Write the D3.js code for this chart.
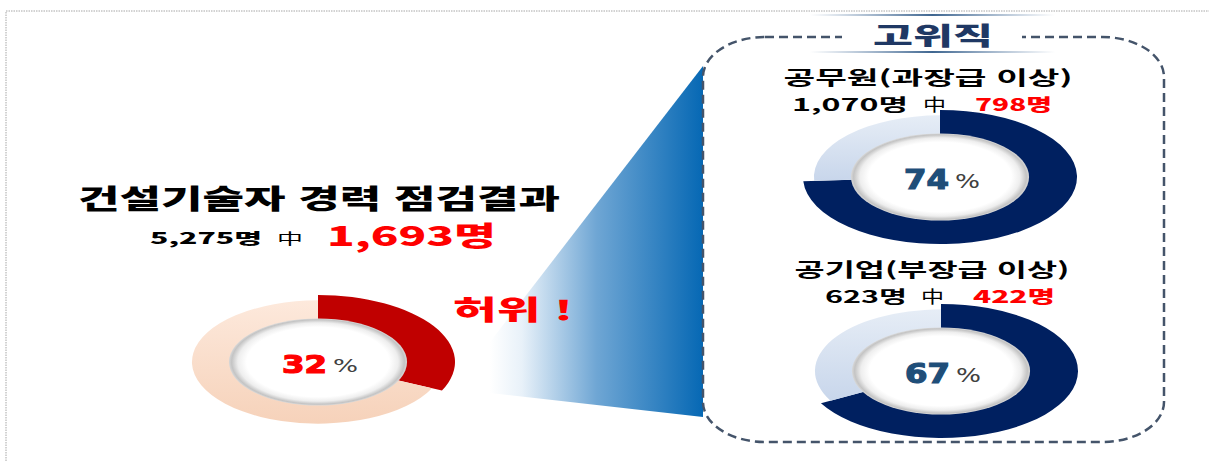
<!DOCTYPE html>
<html lang="ko">
<head>
    <meta charset="UTF-8">
    <title>건설기술자 경력 점검결과</title>
    <style>
        body { margin: 0; background: #fff; }
        text { font-family: "Noto Sans CJK KR", "Noto Sans", sans-serif; }
        text.num { font-family: "DejaVu Sans", "Lato", sans-serif; }
    </style>
</head>
<body>
    <div id="wrapper"></div>
    <script src="https://cdn.jsdelivr.net/npm/d3@7"></script>
    <script>
        // 데이터
        const groups = ['건설기술자 경력 점검결과', '공무원(과장급 이상)', '공기업(부장급 이상)'];
        const totals = ['5,275명', '1,070명', '623명'];
        const falseCounts = ['1,693명', '798명', '422명'];
        const percents = [32, 74, 67];
        const boxTitle = '고위직';
        const shout = '허위 !';

        let width = 1209;
        let height = 461;

        let svg = d3.select('#wrapper').append('svg')
            .attr('width', width)
            .attr('height', height);

        let defs = svg.append('defs');

        // 그라데이션 정의
        function linear(id, stops, x2, y2) {
            let g = defs.append('linearGradient').attr('id', id)
                .attr('x1', 0).attr('y1', 0).attr('x2', x2).attr('y2', y2);
            stops.forEach(s => g.append('stop').attr('offset', s[0]).attr('stop-color', s[1]).attr('stop-opacity', s[2] === undefined ? 1 : s[2]));
        }
        linear('wedge', [[0, '#ffffff'], [0.15, '#e8f1f9'], [0.5, '#6fa6d4'], [1, '#0668b4']], 1, 0);
        linear('peach', [[0, '#fde9dc'], [1, '#f6d2ba']], 0, 1);
        linear('lightblue', [[0, '#e6edf6'], [1, '#c8d6eb']], 0, 1);
        linear('rule', [[0, '#5b7fa8', 0], [0.5, '#3f6690', 1], [1, '#5b7fa8', 0]], 1, 0);

        let rg = defs.append('radialGradient').attr('id', 'hole');
        [[0, '#ffffff'], [0.8, '#ffffff'], [0.9, '#eeeeee'], [0.97, '#c4c4c4'], [1, '#d8d8d8']]
            .forEach(s => rg.append('stop').attr('offset', s[0]).attr('stop-color', s[1]));

        // 바깥 점선 테두리
        svg.append('path')
            .attr('d', 'M6,' + height + ' V11 H' + width)
            .attr('fill', 'none')
            .attr('stroke', '#a6a6a6')
            .attr('stroke-width', 1)
            .attr('stroke-dasharray', '1.5,1');

        // 파란 쐐기 모양
        svg.append('polygon')
            .attr('points', [[703, 66], [703, 417], [490, 393], [490, 342]].join(' '))
            .attr('fill', 'url(#wedge)');

        // 고위직 점선 박스
        svg.append('rect')
            .attr('x', 703).attr('y', 37)
            .attr('width', 461).attr('height', 405)
            .attr('rx', 62).attr('ry', 40)
            .attr('fill', 'none')
            .attr('stroke', '#44546a')
            .attr('stroke-width', 2.5)
            .attr('stroke-dasharray', '9,5');

        svg.append('rect')
            .attr('x', 842).attr('y', 28)
            .attr('width', 180).attr('height', 18)
            .attr('fill', '#fff');

        [15, 52].forEach(y => {
            svg.append('rect')
                .attr('x', 810).attr('y', y - 1)
                .attr('width', 245).attr('height', 2)
                .attr('fill', 'url(#rule)');
        });

        // 텍스트 도우미
        function label(x, y, str, size, color, weight, len, anchor) {
            let t = svg.append('text')
                .attr('x', x).attr('y', y)
                .attr('font-size', size)
                .attr('font-weight', weight)
                .attr('fill', color)
                .attr('text-anchor', anchor || 'start')
                .text(str);
            if (len) t.attr('textLength', len).attr('lengthAdjust', 'spacingAndGlyphs');
            return t;
        }

        label(933, 45, boxTitle, 25, '#1f3864', 900, 120, 'middle');

        // 도넛 위치
        let donuts = [
            { cx: 318, cy: 362, main: '#c00000', rest: 'url(#peach)', num: '#ff0000' },
            { cx: 940, cy: 177, main: '#002060', rest: 'url(#lightblue)', num: '#1f4e79' },
            { cx: 941, cy: 371, main: '#002060', rest: 'url(#lightblue)', num: '#1f4e79' }
        ];

        let pie = d3.pie().sort(null).value(d => d);
        let arc = d3.arc()
            .innerRadius(58)
            .outerRadius(d => d.index === 0 ? 100 : 92);

        donuts.forEach((o, i) => {
            let g = svg.append('g')
                .attr('transform', 'translate(' + o.cx + ',' + o.cy + ') scale(1.37,0.67)');
            g.selectAll('path')
                .data(pie([percents[i], 100 - percents[i]]))
                .enter()
                .append('path')
                .attr('d', arc)
                .attr('fill', (d, j) => j === 0 ? o.main : o.rest);
            g.append('circle')
                .attr('r', 65)
                .attr('fill', 'url(#hole)');

            let dy = i === 0 ? 11 : 12;
            label(o.cx + 9, o.cy + dy, percents[i], i === 0 ? 24 : 26, o.num, 700, 45, 'end')
                .attr('class', 'num')
                .attr('stroke', o.num)
                .attr('stroke-width', 1.2);
            label(o.cx + 15, o.cy + dy - 1, '%', i === 0 ? 17 : 19, '#404040', 400, 25)
                .attr('class', 'num');
        });

        // 왼쪽 제목
        label(319, 209, groups[0], 27, '#000', 900, 482, 'middle');
        label(150, 244, totals[0], 15, '#000', 900, 112);
        label(277, 244, '中', 15, '#000', 400, 26);
        label(327, 246, falseCounts[0], 27, '#ff0000', 900, 169);
        label(453, 320, shout, 27, '#ff0000', 900, 120);

        // 오른쪽 제목
        label(928, 85, groups[1], 19, '#000', 700, 289, 'middle');
        label(792, 111, totals[1], 17, '#000', 700, 116);
        label(923, 111, '中', 17, '#000', 400, 23);
        label(975, 111, falseCounts[1], 17, '#ff0000', 900, 77);

        label(932, 277, groups[2], 19, '#000', 700, 275, 'middle');
        label(825, 303, totals[2], 17, '#000', 700, 82);
        label(921, 303, '中', 17, '#000', 400, 23);
        label(973, 303, falseCounts[2], 17, '#ff0000', 900, 82);
    </script>
</body>
</html>
